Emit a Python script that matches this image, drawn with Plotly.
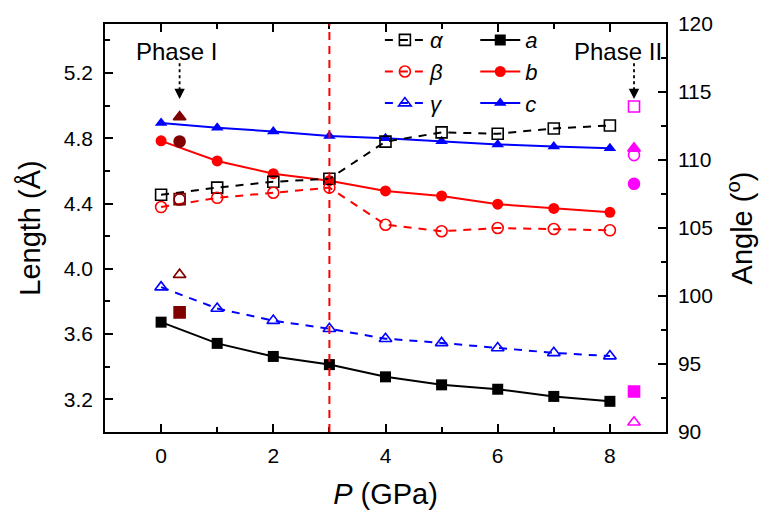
import plotly.graph_objects as go

# ---- data ----
P = [0, 1, 2, 3, 4, 5, 6, 7, 8]
a = [3.673, 3.543, 3.463, 3.413, 3.338, 3.289, 3.262, 3.218, 3.188]
b = [4.784, 4.661, 4.583, 4.540, 4.477, 4.446, 4.396, 4.370, 4.346]
c = [4.894, 4.864, 4.842, 4.814, 4.800, 4.782, 4.762, 4.750, 4.738]
alpha = [107.44, 107.97, 108.40, 108.62, 111.35, 112.03, 111.93, 112.32, 112.54]
beta = [106.54, 107.22, 107.59, 107.97, 105.24, 104.76, 105.00, 104.93, 104.83]
gamma = [100.65, 99.08, 98.19, 97.59, 96.86, 96.55, 96.18, 95.82, 95.58]

phase1_P = [0.33]
phase1_a = [3.733]
phase1_b = [4.78]
phase1_c = [4.93]
phase1_alpha = [107.12]
phase1_beta = [107.10]
phase1_gamma = [101.57]

phase2_P = [8.43]
phase2_a = [3.248]
phase2_b = [4.521]
phase2_c = [4.738]
phase2_alpha = [113.93]
phase2_beta = [110.36]
phase2_gamma = [90.72]

transition_P = 3.0

FONT = "Liberation Sans, Arial, sans-serif"
RED = "#ff0000"
BLUE = "#0000ff"
DARK = "#800000"
MAG = "#ff00ff"

fig = go.Figure()

# angle series (dashed, open markers) -> right axis, legend 1
for name, ys, col, sym in [("α", alpha, "black", "square-open"),
                           ("β", beta, RED, "circle-open"),
                           ("γ", gamma, BLUE, "triangle-up-open")]:
    fig.add_trace(go.Scatter(x=P, y=ys, name="<i>%s</i>" % name, yaxis="y2",
                             mode="lines+markers", legend="legend",
                             line=dict(color=col, width=2, dash="8px,7px"),
                             marker=dict(symbol=sym, size=11, color=col,
                                         line=dict(width=1.6, color=col))))

# length series (solid, filled markers) -> left axis, legend 2
for name, ys, col, sym in [("a", a, "black", "square"),
                           ("b", b, RED, "circle"),
                           ("c", c, BLUE, "triangle-up")]:
    fig.add_trace(go.Scatter(x=P, y=ys, name="<i>%s</i>" % name,
                             mode="lines+markers", legend="legend2",
                             line=dict(color=col, width=2),
                             marker=dict(symbol=sym, size=11, color=col)))

# phase I / phase II isolated points
for px, col, vals in [(phase1_P, DARK, (phase1_a, phase1_b, phase1_c, phase1_alpha, phase1_beta, phase1_gamma)),
                      (phase2_P, MAG, (phase2_a, phase2_b, phase2_c, phase2_alpha, phase2_beta, phase2_gamma))]:
    pa, pb, pc, pal, pbe, pga = vals
    for ys, sym, ax in [(pa, "square", "y"), (pb, "circle", "y"), (pc, "triangle-up", "y"),
                        (pal, "square-open", "y2"), (pbe, "circle-open", "y2"),
                        (pga, "triangle-up-open", "y2")]:
        fig.add_trace(go.Scatter(x=px, y=ys, yaxis=ax, mode="markers", showlegend=False,
                                 marker=dict(symbol=sym, size=11, color=col,
                                             line=dict(width=1.6, color=col))))

# transition line
fig.add_shape(type="line", x0=transition_P, x1=transition_P, y0=0, y1=1,
              xref="x", yref="paper", line=dict(color=RED, width=2, dash="8px,6px"))

# phase labels with dotted arrows
for px, label, tx in [(phase1_P[0], "Phase I", 0.27), (phase2_P[0], "Phase II", 8.14)]:
    fig.add_annotation(x=tx, y=5.33, xref="x", yref="y", text=label, showarrow=False,
                       font=dict(family=FONT, size=24, color="black"))
    fig.add_shape(type="line", x0=px, x1=px, y0=5.26, y1=5.09, xref="x", yref="y",
                  line=dict(color="black", width=1.8, dash="dot"))
    fig.add_annotation(x=px, y=5.04, xref="x", yref="y", text="", showarrow=True,
                       ax=0, ay=-12, arrowhead=2, arrowsize=1.3, arrowwidth=1.6,
                       arrowcolor="black")

axis_common = dict(showline=True, linecolor="black", linewidth=1.5, ticks="inside",
                   tickcolor="black", tickwidth=1.5, ticklen=8, showgrid=False,
                   zeroline=False, tickfont=dict(family=FONT, size=21, color="black"))

fig.update_layout(
    width=771, height=524,
    margin=dict(l=105, r=105, t=17, b=92),
    paper_bgcolor="white", plot_bgcolor="white",
    font=dict(family=FONT, color="black"),
    xaxis=dict(range=[-1, 9], dtick=2, tick0=0, mirror="ticks",
               minor=dict(dtick=1, ticks="inside", ticklen=5, tickcolor="black", tickwidth=1.5),
               title=dict(text="<i>P</i> (GPa)", font=dict(family=FONT, size=29), standoff=18),
               ticklabelstandoff=4,
               **axis_common),
    yaxis=dict(range=[3.0, 5.5], dtick=0.4, tick0=3.2, tickformat=".1f",
               minor=dict(dtick=0.2, ticks="inside", ticklen=5, tickcolor="black", tickwidth=1.5),
               title=dict(text="Length (Å)", font=dict(family=FONT, size=29), standoff=15),
               ticklabelstandoff=6,
               **axis_common),
    yaxis2=dict(range=[90, 120], dtick=5, overlaying="y", side="right",
                minor=dict(dtick=2.5, ticks="inside", ticklen=5, tickcolor="black", tickwidth=1.5),
                title=dict(text="Angle (<sup>o</sup>)", font=dict(family=FONT, size=29), standoff=20),
                ticklabelstandoff=6,
                **axis_common),
    legend=dict(x=0.49, y=1.012, xanchor="left", yanchor="top", bgcolor="rgba(0,0,0,0)",
                font=dict(family=FONT, size=22, color="black"), tracegroupgap=0,
                itemwidth=40),
    legend2=dict(x=0.66, y=1.012, xanchor="left", yanchor="top", bgcolor="rgba(0,0,0,0)",
                 font=dict(family=FONT, size=22, color="black"), tracegroupgap=0,
                 itemwidth=40),
)

fig.write_html("out.html")
